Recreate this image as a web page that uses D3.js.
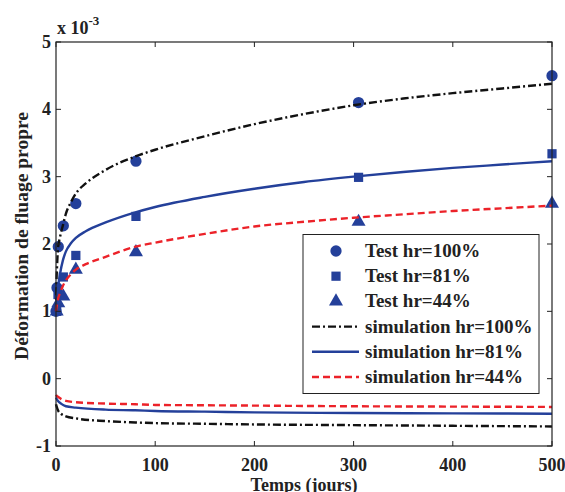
<!DOCTYPE html>
<html><head><meta charset="utf-8">
<script src="https://cdn.jsdelivr.net/npm/d3@7"></script>
<style>body{margin:0;background:#fff}svg{display:block}text{font-family:"Liberation Serif","Times New Roman",serif;font-weight:bold;fill:#222}</style>
</head><body>
<script>
const xTicks=[0,100,200,300,400,500];
const yTicks=[-1,0,1,2,3,4,5];
// Test data (x1e-3)
const t100=[0,1,2.3,7.4,20,80.6,305,500];
const v100=[1.0,1.35,1.96,2.27,2.6,3.23,4.1,4.5];
const t81=[0.7,2,7.4,20,80.6,305,500];
const v81=[1.0,1.25,1.51,1.83,2.41,2.99,3.34];
const t44=[0.7,2.3,7.4,20,80.6,305,500];
const v44=[1.0,1.12,1.22,1.62,1.88,2.33,2.6];
// Simulations
const simT=[0,0.5,1,2,4,7,10,15,20,30,50,80,100,150,200,250,300,350,400,450,500];
const sim100=[1.0,1.45,1.65,1.93,2.1,2.28,2.45,2.62,2.75,2.9,3.1,3.3,3.4,3.6,3.78,3.93,4.06,4.16,4.24,4.31,4.38];
const sim81=[1.0,1.12,1.2,1.35,1.55,1.76,1.89,2.01,2.09,2.19,2.32,2.47,2.55,2.7,2.82,2.92,3.0,3.07,3.13,3.18,3.23];
const sim44=[1.0,1.06,1.1,1.18,1.27,1.38,1.46,1.55,1.62,1.7,1.81,1.96,2.02,2.15,2.26,2.33,2.39,2.44,2.49,2.53,2.57];
const lowT=[0,1,2,5,10,20,50,80,100,150,200,300,400,500];
const low100=[-0.38,-0.43,-0.47,-0.52,-0.56,-0.59,-0.63,-0.65,-0.66,-0.67,-0.68,-0.69,-0.70,-0.71];
const low81=[-0.28,-0.31,-0.33,-0.37,-0.41,-0.43,-0.46,-0.47,-0.48,-0.49,-0.50,-0.51,-0.515,-0.52];
const low44=[-0.24,-0.26,-0.27,-0.30,-0.33,-0.35,-0.37,-0.38,-0.39,-0.395,-0.40,-0.41,-0.415,-0.42];
const legendLabels=["Test hr=100%","Test hr=81%","Test hr=44%","simulation hr=100%","simulation hr=81%","simulation hr=44%"];

const W=565,H=492;
const m={l:56,r:13,t:42,b:46};
const BLUE="#24409a",RED="#ec2229",BLACK="#111";
const svg=d3.select("body").append("svg").attr("width",W).attr("height",H);
const x=d3.scaleLinear().domain([0,500]).range([m.l,W-m.r]);
const y=d3.scaleLinear().domain([-1,5]).range([H-m.b,m.t]);

const zip=(a,b)=>a.map((d,i)=>[d,b[i]]);
const line=d3.line().x(d=>x(d[0])).y(d=>y(d[1])).curve(d3.curveMonotoneX);

// markers
const g=svg.append("g");
const sym=(type,size)=>d3.symbol().type(type).size(size);
function markers(ts,vs,type,size){
  g.selectAll(null).data(zip(ts,vs)).enter().append("path")
   .attr("d",sym(type,size)()).attr("transform",d=>`translate(${x(d[0])},${y(d[1])})`)
   .attr("fill",BLUE);
}
markers(t100,v100,d3.symbolCircle,100);
markers(t81,v81,d3.symbolSquare,85);
markers(t44,v44,d3.symbolTriangle,85);

const styles=[{c:BLACK,da:"8,3,2,3"},{c:BLUE,da:null},{c:RED,da:"7,4"}];
function drawLine(ts,vs,s){
  const p=svg.append("path").datum(zip(ts,vs)).attr("d",line).attr("fill","none")
   .attr("stroke",s.c).attr("stroke-width",2.4);
  if(s.da)p.attr("stroke-dasharray",s.da);
}
drawLine(simT,sim100,styles[0]);drawLine(simT,sim81,styles[1]);drawLine(simT,sim44,styles[2]);
drawLine(lowT,low100,styles[0]);drawLine(lowT,low81,styles[1]);drawLine(lowT,low44,styles[2]);

// axes box
const ax=svg.append("g");
ax.append("rect").attr("x",x(0)).attr("y",y(5)).attr("width",x(500)-x(0)).attr("height",y(-1)-y(5))
  .attr("fill","none").attr("stroke","#222").attr("stroke-width",1.2);
const tl=5;
xTicks.forEach(v=>{
  ax.append("line").attr("x1",x(v)).attr("x2",x(v)).attr("y1",y(-1)).attr("y2",y(-1)-tl).attr("stroke","#222");
  ax.append("line").attr("x1",x(v)).attr("x2",x(v)).attr("y1",y(5)).attr("y2",y(5)+tl).attr("stroke","#222");
  ax.append("text").attr("x",x(v)).attr("y",y(-1)+25).attr("text-anchor","middle").attr("font-size",18).text(v);
});
yTicks.forEach(v=>{
  ax.append("line").attr("y1",y(v)).attr("y2",y(v)).attr("x1",x(0)).attr("x2",x(0)+tl).attr("stroke","#222");
  ax.append("line").attr("y1",y(v)).attr("y2",y(v)).attr("x1",x(500)).attr("x2",x(500)-tl).attr("stroke","#222");
  ax.append("text").attr("x",x(0)-5).attr("y",y(v)+6).attr("text-anchor","end").attr("font-size",18).text(v);
});
const ex=svg.append("text").attr("x",57).attr("y",34).attr("font-size",18);
ex.append("tspan").text("x 10");
ex.append("tspan").attr("dy",-9).attr("font-size",13).text("-3");
svg.append("text").attr("x",(x(0)+x(500))/2).attr("y",H-1).attr("text-anchor","middle").attr("font-size",18).text("Temps (jours)");
svg.append("text").attr("transform",`translate(28,236) rotate(-90)`).attr("text-anchor","middle").attr("font-size",19.5).text("Déformation de fluage propre");

// legend
const lg=svg.append("g");
lg.append("rect").attr("x",303).attr("y",234.5).attr("width",236).attr("height",159).attr("fill","#fff").attr("stroke","#222").attr("stroke-width",1);
const rowY=i=>251+i*25.2;
const mk=[d3.symbolCircle,d3.symbolSquare,d3.symbolTriangle],ms=[100,85,85];
legendLabels.forEach((lab,i)=>{
  if(i<3){
    lg.append("path").attr("d",sym(mk[i],ms[i])()).attr("transform",`translate(336,${rowY(i)})`).attr("fill",BLUE);
  } else {
    const s=styles[i-3];
    const l=lg.append("line").attr("x1",312).attr("x2",359).attr("y1",rowY(i)).attr("y2",rowY(i)).attr("stroke",s.c).attr("stroke-width",2.4);
    if(s.da)l.attr("stroke-dasharray",s.da);
  }
  lg.append("text").attr("x",365).attr("y",rowY(i)+6).attr("font-size",19).text(lab);
});
</script>
</body></html>
